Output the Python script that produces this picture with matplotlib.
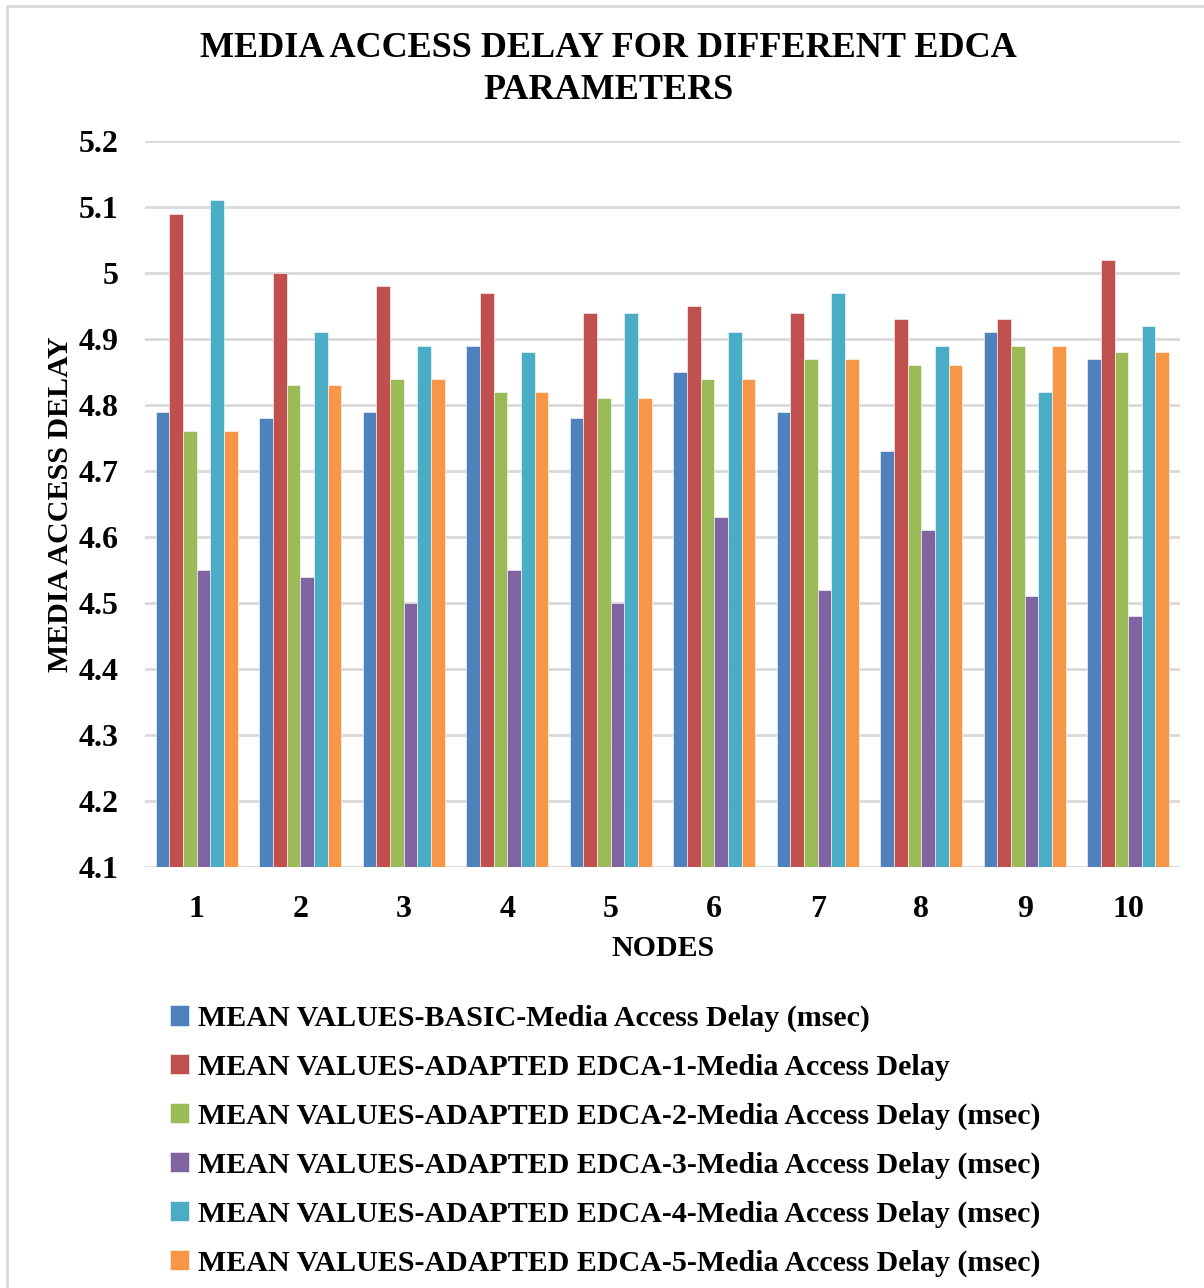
import matplotlib.pyplot as plt
import numpy as np
from matplotlib.patches import Rectangle

nodes = ['1', '2', '3', '4', '5', '6', '7', '8', '9', '10']

basic = [4.79, 4.78, 4.79, 4.89, 4.78, 4.85, 4.79, 4.73, 4.91, 4.87]
edca1 = [5.09, 5.00, 4.98, 4.97, 4.94, 4.95, 4.94, 4.93, 4.93, 5.02]
edca2 = [4.76, 4.83, 4.84, 4.82, 4.81, 4.84, 4.87, 4.86, 4.89, 4.88]
edca3 = [4.55, 4.54, 4.50, 4.55, 4.50, 4.63, 4.52, 4.61, 4.51, 4.48]
edca4 = [5.11, 4.91, 4.89, 4.88, 4.94, 4.91, 4.97, 4.89, 4.82, 4.92]
edca5 = [4.76, 4.83, 4.84, 4.82, 4.81, 4.84, 4.87, 4.86, 4.89, 4.88]

series_names = [
    'MEAN VALUES-BASIC-Media Access Delay (msec)',
    'MEAN VALUES-ADAPTED EDCA-1-Media Access Delay',
    'MEAN VALUES-ADAPTED EDCA-2-Media Access Delay (msec)',
    'MEAN VALUES-ADAPTED EDCA-3-Media Access Delay (msec)',
    'MEAN VALUES-ADAPTED EDCA-4-Media Access Delay (msec)',
    'MEAN VALUES-ADAPTED EDCA-5-Media Access Delay (msec)',
]
colors = ['#4f81bd', '#c0504d', '#9bbb59', '#8064a2', '#4bacc6', '#f79646']

y_ticks = [4.1, 4.2, 4.3, 4.4, 4.5, 4.6, 4.7, 4.8, 4.9, 5.0, 5.1, 5.2]
y_tick_labels = ['4.1', '4.2', '4.3', '4.4', '4.5', '4.6', '4.7', '4.8', '4.9', '5', '5.1', '5.2']

plt.rcParams['font.family'] = ['Liberation Serif', 'DejaVu Serif']
plt.rcParams['font.weight'] = 'bold'

fig = plt.figure(figsize=(12.04, 12.88), dpi=100)
ax = fig.add_axes([0.1204, 0.3269, 0.8596, 0.5636])

all_series = [basic, edca1, edca2, edca3, edca4, edca5]
x = np.arange(len(nodes))
bar_w = 0.132
for i, (vals, name, c) in enumerate(zip(all_series, series_names, colors)):
    offs = (i - 2.5) * bar_w
    ax.bar(x + offs, np.array(vals) - 4.1, bar_w, bottom=4.1, color=c,
           edgecolor='white', linewidth=0.4, label=name, zorder=3)

ax.set_xlim(-0.5, len(nodes) - 0.5)
ax.set_ylim(4.1, 5.2)
ax.set_yticks(y_ticks)
ax.set_yticklabels(y_tick_labels)
ax.set_xticks(x)
ax.set_xticklabels(nodes)
ax.tick_params(axis='both', length=0, labelsize=23)
ax.tick_params(axis='y', pad=19)
ax.tick_params(axis='x', pad=20)
for lab in ax.get_xticklabels() + ax.get_yticklabels():
    lab.set_fontweight('bold')
ax.grid(axis='y', color='#d9d9d9', linewidth=2, zorder=0)
for s in ['top', 'right', 'left', 'bottom']:
    ax.spines[s].set_visible(False)

ax.set_xlabel('NODES', fontsize=21.5, fontweight='bold', labelpad=8)
ax.set_ylabel('MEDIA ACCESS DELAY', fontsize=21.6, fontweight='bold')
ax.yaxis.set_label_coords(-0.069, 0.5)

fig.text(0.505, 0.962, 'MEDIA ACCESS DELAY FOR DIFFERENT EDCA', ha='center', va='center',
         fontsize=26, fontweight='bold')
fig.text(0.505, 0.930, 'PARAMETERS', ha='center', va='center',
         fontsize=26, fontweight='bold')

fig.legend(loc='upper left', bbox_to_anchor=(0.131, 0.229), ncol=1, frameon=False,
           prop={'size': 21.6, 'weight': 'bold'}, handlelength=0.65, handleheight=0.65,
           handletextpad=0.3, labelspacing=0.72, borderaxespad=0)

# outer chart frame (cropped on right and bottom in the original)
fig.patches.append(Rectangle((7 / 1204, -0.05), 1.2, 1 - 6 / 1288 + 0.05,
                             transform=fig.transFigure, fill=False,
                             edgecolor='#d9d9d9', linewidth=2))

fig.savefig('out.png', dpi=100)
